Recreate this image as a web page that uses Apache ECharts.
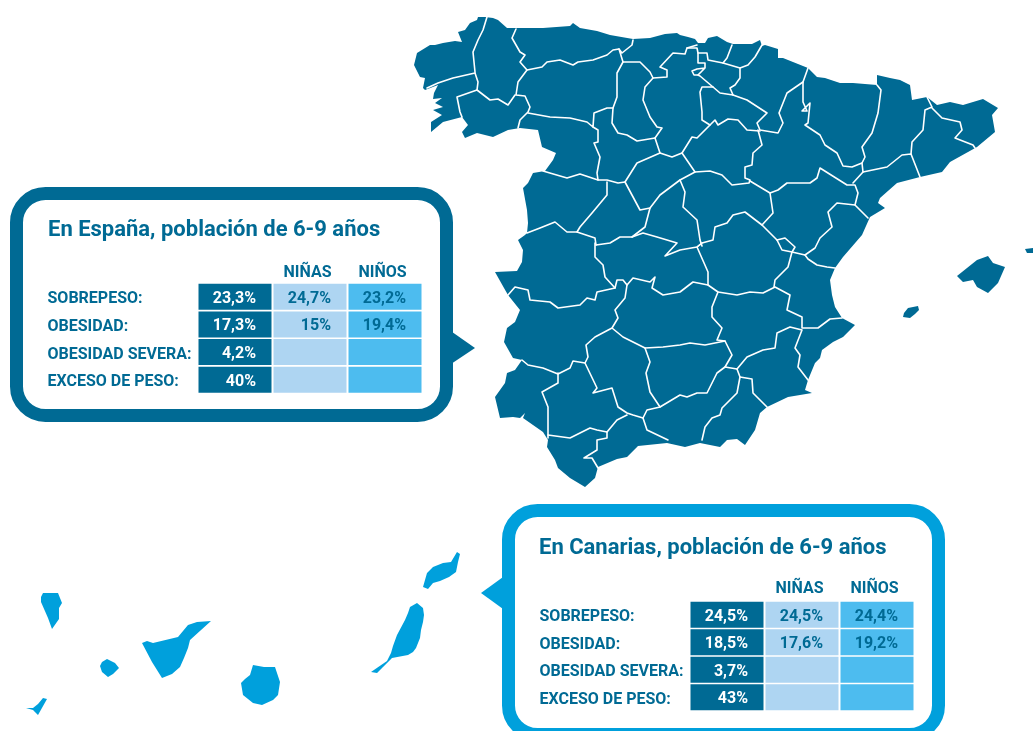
<!DOCTYPE html>
<html>
<head>
<meta charset="utf-8">
<title>Obesidad infantil</title>
<style>
html,body{margin:0;padding:0;background:#fff;}
#charts{width:1033px;height:731px;}
</style>
<script src="https://cdn.jsdelivr.net/npm/echarts@6/dist/echarts.min.js"></script>
</head>
<body>
<div id="charts"></div>
<script>
// table values
var filas = ["SOBREPESO:", "OBESIDAD:", "OBESIDAD SEVERA:", "EXCESO DE PESO:"];
var columnas = ["", "NIÑAS", "NIÑOS"];
var espanaTotal = [23.3, 17.3, 4.2, 40];
var espanaNinas = [24.7, 15, null, null];
var espanaNinos = [23.2, 19.4, null, null];
var canariasTotal = [24.5, 18.5, 3.7, 43];
var canariasNinas = [24.5, 17.6, null, null];
var canariasNinos = [24.4, 19.2, null, null];

// map outlines
var peninsula = "431,132 431,122 442,115 433,110 443,107 435,103 442,98 433,99 434,93 438,85 425,90 423,88 425,78 420,77 414,65 417,53 430,45 435,45 443,43 455,41 462,42 458,32 465,30 470,23 477,20 478,17 485,17 493,18 498,20 507,28 517,28 543,28 570,26 573,23 580,28 597,31 610,35 633,39 650,38 665,34 677,33 680,35 688,37 695,39 698,43 705,43 708,38 717,36 727,42 733,44 752,44 760,40 762,46 765,45 778,49 778,58 783,58 808,68 817,77 825,78 840,83 853,83 877,85 877,75 890,78 900,80 910,85 912,100 927,97 937,105 950,102 963,105 983,99 993,105 998,108 992,115 995,132 977,147 950,162 942,172 920,177 897,183 880,198 878,203 885,208 870,217 862,235 843,257 835,268 830,280 832,295 835,307 842,318 855,325 843,337 833,342 822,350 820,358 815,363 808,380 805,390 812,393 788,397 767,407 760,413 755,430 745,445 737,439 727,440 720,447 700,443 685,447 667,443 638,446 627,457 617,459 598,467 595,478 585,487 570,478 558,468 555,460 547,447 548,440 543,432 533,425 523,418 525,413 520,418 513,417 500,418 495,397 505,383 507,373 515,370 522,360 513,358 504,342 507,328 515,322 520,310 508,295 504,288 495,272 517,271 522,262 523,250 518,240 525,235 527,233 528,223 527,210 523,188 528,183 533,173 545,171 553,160 556,153 542,147 538,130 520,128 508,130 493,137 477,133 465,138 462,132 468,125 462,117 443,122";
var mallorca = "957,276 967,268 977,260 988,256 993,263 1005,267 998,283 988,293 977,287 973,280 963,282";
var ibiza = "903,317 904,313 908,308 918,306 919,310 915,314 910,318";
var menorca = "1025,249 1033,248 1033,253 1027,253";
var laPalma = "41,597 43,593 58,593 62,603 59,608 59,619 52,629 48,618 41,602";
var gomera = "102,662 107,659 115,663 119,668 113,674 108,677 102,672 100,666";
var tenerife = "142,643 147,641 153,643 178,637 188,625 197,622 211,621 190,640 188,648 184,658 180,667 172,674 162,678 152,662";
var hierro = "26,708 33,708 38,704 43,698 47,699 38,715 33,710";
var granCanaria = "253,665 264,667 275,667 280,682 278,695 273,700 262,705 253,703 243,695 241,683 245,679 250,675";
var fuerteventura = "371,672 387,661 391,653 393,646 397,635 405,620 408,613 410,607 417,603 423,608 424,615 423,622 421,630 420,638 416,648 413,652 408,655 392,658 383,667 377,673";
var lanzarote = "423,587 427,573 433,567 443,563 451,562 457,552 460,554 458,562 456,572 449,577 440,581 433,583 428,589";

var fronteras = [
  "487,17 483,30 478,40 473,52 475,72", "475,73 453,78 438,83 427,88",
  "475,73 478,82 477,90 457,97 460,112 462,117", "477,90 490,100 498,99 508,105 515,95",
  "516,29 512,38 520,52 525,55 520,62 527,70 518,82 516,95 525,96 530,107 528,112 520,120 518,128",
  "527,70 542,67 547,62 560,60 573,65 578,62 593,60 607,55 613,50 619,49",
  "633,40 632,45 622,53 619,49 623,62 617,73 617,97 613,108 612,123 618,133 627,135 637,141 655,138",
  "623,62 640,62 650,72 653,78 645,87 643,100 650,117 657,127 662,128 655,138 660,153 672,157 682,153",
  "653,78 667,77 667,70 660,67 673,53 685,54 687,48 697,45", "687,48 697,48 698,53 707,53 708,60 723,63 740,68",
  "732,45 727,58 723,63", "762,45 755,57 748,65 740,68 740,78 735,85 730,88 733,95",
  "698,53 698,63 705,63 705,68 697,69 692,71 694,75 698,75 705,68", "698,75 700,76 713,87 720,93 733,95 747,100 767,113 757,123 760,130 778,133 783,123 779,113 787,93 803,82 808,68",
  "713,87 702,87 700,92 702,112 702,120 710,125 715,120 718,125 728,119 738,120 747,130 760,131",
  "710,125 697,138 692,137 682,153 695,172 680,180 660,195 650,208 640,210 625,182 637,163 660,153",
  "528,113 550,117 570,118 587,122 593,127 594,113 607,108 613,108", "593,127 598,130 598,142 594,143 600,157 597,173 598,180",
  "543,171 567,178 580,174 598,180 607,180 618,183 625,182", "607,182 607,195 592,213 580,227 577,232",
  "527,233 540,228 555,222 567,232 577,232 595,238 596,245", "650,208 645,227 632,237 620,237 610,243 596,245",
  "680,180 685,192 683,207 697,220 700,240 702,246", "632,237 643,233 657,237 677,243 665,256 680,250 697,247 702,243",
  "695,172 710,171 722,175 732,185 749,183 750,180 745,178 745,167 752,165 753,153 762,145 758,130",
  "750,181 770,193 778,190 787,183 810,183 817,178 820,168 847,185 855,185 858,193 855,205 868,218",
  "803,82 803,102 807,111 802,111 810,103 808,123 805,125 820,135 825,145 837,153 843,166 852,167 862,163 863,172 853,183",
  "877,85 881,90 878,113 872,133 862,147 865,157 862,163", "863,172 887,167 902,155 911,154 920,177",
  "927,97 932,107 925,110 923,130 912,142 911,154", "932,108 942,118 960,122 962,130 955,138 973,145 975,148",
  "855,205 837,203 828,212 832,227 820,238 815,248 805,255 792,252 782,250 777,240 762,225 773,213 770,193",
  "762,225 745,212 733,215 727,223 715,227 713,240 702,243 697,247 708,272 708,285",
  "777,240 785,238 795,247 792,252 788,267 775,280 774,287", "805,255 808,259 817,265 827,267 835,268",
  "595,243 595,257 603,265 605,277 615,288", "508,295 515,287 528,290 530,300 550,302 558,308 580,305 587,298 595,300 597,292 615,288 617,280 623,280 627,285 633,278 650,282 655,277 652,288 663,295 680,292 693,282 708,285 718,292 737,295 750,292 763,293 775,287 790,295 787,310 802,317 802,328 818,328 830,319 842,318",
  "627,285 625,298 615,310 618,318 612,328 595,337 586,345 588,357 585,363 597,388 593,393 612,388 618,407 627,413 633,415 643,418 647,410 660,407 650,392 646,373 650,362 645,348 623,337 612,328",
  "718,292 712,307 712,317 722,328 717,340 725,341 732,355 725,367 737,369 747,357 763,350 775,348 777,333 790,327 802,330 795,348 800,355 798,367 808,380",
  "645,348 663,347 680,345 690,343 705,345 725,341", "660,407 680,395 687,397 697,393 707,393 717,373 725,367",
  "737,369 740,377 737,393 722,408 720,415 712,418 705,427 702,440", "740,377 752,379 753,393 767,407",
  "643,418 647,430 668,440", "627,415 617,420 607,432 597,430 590,428 570,438 548,435", "607,432 607,438 597,440 597,450 584,458 592,458 598,468",
  "548,438 548,407 542,392 558,383 558,373", "522,360 528,365 543,368 558,374 570,368 573,361 585,363"
];

// "x,y x,y" -> [[x,y],...] with y turned upwards for the geo coordinate system
function puntos(txt) {
  return txt.split(" ").map(function (p) {
    var c = p.split(",");
    return [+c[0], 731 - c[1]];
  });
}
function anillo(txt) {
  var r = puntos(txt);
  r.push(r[0]);
  return [r];
}
function feature(name, lista) {
  return {
    type: "Feature",
    properties: { name: name },
    geometry: { type: "MultiPolygon", coordinates: lista.map(anillo) }
  };
}
echarts.registerMap("espana", {
  type: "FeatureCollection",
  features: [
    feature("Peninsula", [peninsula, mallorca, ibiza, menorca]),
    feature("Canarias", [laPalma, gomera, tenerife, hierro, granCanaria, fuerteventura, lanzarote])
  ]
});

var azul = "#006a94";
var celeste = "#00a0dc";
var coloresColumna = [azul, "#aed5f2", "#4dbcef"];

function celdas(total, ninas, ninos) {
  var out = [];
  [total, ninas, ninos].forEach(function (serie, col) {
    serie.forEach(function (v, fila) {
      out.push([col, fila, v]);
    });
  });
  return out;
}
function renderCelda(params, api) {
  var col = api.value(0);
  var v = api.value(2);
  var c = api.coord([col, api.value(1)]);
  var s = api.size([1, 1]);
  var w = s[0] - 2, h = s[1] - 1.6;
  var hijos = [{
    type: "rect",
    shape: { x: c[0] - w / 2, y: c[1] - h / 2, width: w, height: h },
    style: { fill: coloresColumna[col] }
  }];
  if (!isNaN(v)) {
    hijos.push({
      type: "text",
      style: {
        x: c[0] + w / 2 - 15.5, y: c[1] + 2,
        text: String(v).replace(".", ",") + "%",
        fill: col === 0 ? "#fff" : azul,
        font: "bold 16px Roboto",
        align: "right", verticalAlign: "middle"
      }
    });
  }
  return { type: "group", children: hijos };
}
function ejeX(i, margen) {
  return {
    type: "category", gridIndex: i, data: columnas, position: "top",
    axisLine: { show: false }, axisTick: { show: false }, splitLine: { show: false },
    axisLabel: { interval: 0, color: azul, fontFamily: "Roboto", fontWeight: "bold", fontSize: 16, margin: margen, padding: [0, 5, 0, 0] }
  };
}
function ejeY(i) {
  return {
    type: "category", gridIndex: i, data: filas, inverse: true,
    axisLine: { show: false }, axisTick: { show: false }, splitLine: { show: false },
    axisLabel: { interval: 0, color: azul, fontFamily: "Roboto", fontWeight: "bold", fontSize: 16, align: "left", margin: 150, verticalAlign: "top", lineHeight: 5 }
  };
}
function bocadillo(x, y, w, h, color, triangulo) {
  return [
    { type: "polygon", shape: { points: triangulo }, style: { fill: color } },
    { type: "rect", shape: { x: x, y: y, width: w, height: h, r: 29 }, style: { fill: "#fff", stroke: color, lineWidth: 13 } }
  ];
}

var option = {
  animation: false,
  backgroundColor: "#fff",
  title: [
    { text: "En España, población de 6-9 años", left: 48, top: 219, padding: 0, textStyle: { color: azul, fontFamily: "Roboto", fontWeight: "bold", fontSize: 22 } },
    { text: "En Canarias, población de 6-9 años", left: 539, top: 537, padding: 0, textStyle: { color: azul, fontFamily: "Roboto", fontWeight: "bold", fontSize: 22 } }
  ],
  graphic: bocadillo(16.5, 193.5, 430, 222, azul, [[445, 327], [475, 348], [445, 368]])
    .concat(bocadillo(508.5, 510.5, 430, 224, celeste, [[510, 572], [481, 593], [510, 614]])),
  geo: {
    map: "espana", left: 0, top: 0, width: 1033, height: 731,
    boundingCoords: [[0, 731], [1033, 0]],
    aspectScale: 1, roam: false, silent: true,
    label: { show: false },
    itemStyle: { areaColor: azul, borderWidth: 0 },
    regions: [{ name: "Canarias", itemStyle: { areaColor: celeste, borderWidth: 0 } }]
  },
  grid: [
    { left: 197.5, top: 283, width: 225, height: 110.5 },
    { left: 689.5, top: 601, width: 225, height: 110 }
  ],
  xAxis: [ejeX(0, 2), ejeX(1, 4)],
  yAxis: [ejeY(0), ejeY(1)],
  series: [
    {
      type: "lines", coordinateSystem: "geo", polyline: true, silent: true,
      lineStyle: { color: "#fff", width: 1.6, opacity: 1, curveness: 0, join: "round", cap: "round" },
      data: fronteras.map(function (f) { return { coords: puntos(f) }; })
    },
    { type: "custom", xAxisIndex: 0, yAxisIndex: 0, renderItem: renderCelda, data: celdas(espanaTotal, espanaNinas, espanaNinos), silent: true },
    { type: "custom", xAxisIndex: 1, yAxisIndex: 1, renderItem: renderCelda, data: celdas(canariasTotal, canariasNinas, canariasNinos), silent: true }
  ]
};
var myChart = echarts.init(document.getElementById("charts"));
myChart.setOption(option);
</script>
</body>
</html>
